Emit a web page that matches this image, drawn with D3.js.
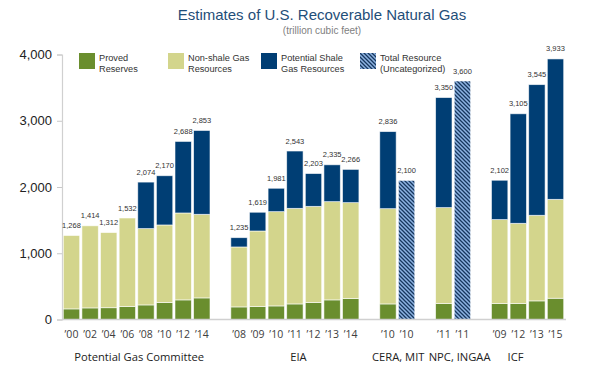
<!DOCTYPE html>
<html>
<head>
<meta charset="utf-8">
<script src="https://cdn.jsdelivr.net/npm/d3@7"></script>
<style>
  body { margin: 0; background: #fff; }
  svg { display: block; }
</style>
</head>
<body>
<svg id="chart" width="596" height="387"></svg>
<script>
// ---- Data ----
const groups = ["Potential Gas Committee", "EIA", "CERA, MIT", "NPC, INGAA", "ICF"];
const barGroup = [0,0,0,0,0,0,0,0, 1,1,1,1,1,1,1, 2,2, 3,3, 4,4,4,4];
const years = ["’00","’02","’04","’06","’08","’10","’12","’14",
               "’08","’09","’10","’11","’12","’13","’14",
               "’10","’10", "’11","’11", "’09","’12","’13","’15"];
const proved   = [160,175,178,196,220,256,296,326, 190,196,205,235,256,296,317, 235,0, 241,0, 241,241,281,321];
const nonshale = [1108,1239,1134,1336,1152,1171,1312,1262, 905,1140,1423,1443,1452,1483,1447, 1438,0, 1448,0, 1267,1211,1292,1493];
const shale    = [0,0,0,0,702,743,1080,1265, 140,283,353,865,495,556,502, 1163,0, 1661,0, 594,1653,1972,2119];
const uncategorized = [0,0,0,0,0,0,0,0, 0,0,0,0,0,0,0, 0,2100, 0,3600, 0,0,0,0];
const totals   = [1268,1414,1312,1532,2074,2170,2688,2853, 1235,1619,1981,2543,2203,2335,2266, 2836,2100, 3350,3600, 2102,3105,3545,3933];
const yTicks = [0, 1000, 2000, 3000, 4000];
const seriesNames = ["Proved\nReserves", "Non-shale Gas\nResources", "Potential Shale\nGas Resources", "Total Resource\n(Uncategorized)"];

// ---- Style ----
const colors = { proved: "#6a8e2e", nonshale: "#d3d58c", shale: "#003e74", hatchBg: "#8db3e2", hatch: "#17375e" };
const groupLabelDx = [2.5, 3.5, 1, 6.5, -12];

const svg = d3.select("#chart");

// pattern
const defs = svg.append("defs");
const pat = defs.append("pattern").attr("id", "hatch")
  .attr("patternUnits", "userSpaceOnUse").attr("width", 4).attr("height", 4);
pat.append("rect").attr("width", 4).attr("height", 4).attr("fill", colors.hatchBg);
pat.append("path").attr("d", "M-1,-1 L5,5 M-1,3 L1,5 M3,-1 L5,1")
  .attr("stroke", colors.hatch).attr("stroke-width", 1.3);

// slots: one empty slot between groups
const slots = [];
barGroup.forEach((g, i) => { slots.push(i + g); });
const nSlots = slots[slots.length - 1] + 1;

const x = d3.scaleBand().domain(d3.range(nSlots)).range([62, 565])
  .paddingInner(0.12).paddingOuter(0.07);
const y = d3.scaleLinear().domain([0, 4000]).range([319.5, 54.5]);

// Title
svg.append("text").attr("x", 322).attr("y", 19.5).attr("text-anchor", "middle")
  .attr("font-family", "Liberation Sans, Arial, sans-serif").attr("font-size", 15)
  .attr("fill", "#1f4e79").text("Estimates of U.S. Recoverable Natural Gas");
svg.append("text").attr("x", 322).attr("y", 34).attr("text-anchor", "middle")
  .attr("font-family", "Liberation Sans, Arial, sans-serif").attr("font-size", 10)
  .attr("fill", "#7f7f7f").text("(trillion cubic feet)");

// Y axis
const yAxis = svg.append("g").attr("transform", "translate(62,0)")
  .call(d3.axisLeft(y).tickValues(yTicks).tickFormat(d3.format(",")).tickSize(5).tickPadding(5));
yAxis.select(".domain").attr("stroke", "#d0d0d0").attr("stroke-width", 1.2);
yAxis.selectAll(".tick line").attr("stroke", "#c8c8c8");
yAxis.selectAll(".tick text").attr("font-family", "Liberation Sans, Arial, sans-serif")
  .attr("font-size", 13).attr("fill", "#222");

// Bars
const bars = svg.append("g");
years.forEach((yr, i) => {
  const bx = x(slots[i]), bw = x.bandwidth();
  let base = 0;
  const segs = [[proved[i], colors.proved], [nonshale[i], colors.nonshale], [shale[i], colors.shale], [uncategorized[i], "url(#hatch)"]];
  segs.forEach(([v, c]) => {
    if (v > 0) {
      bars.append("rect").attr("x", bx).attr("width", bw)
        .attr("y", y(base + v)).attr("height", y(base) - y(base + v))
        .attr("fill", c).attr("stroke", "rgba(255,255,255,0.7)").attr("stroke-width", 0.8);
      base += v;
    }
  });
  bars.append("text").attr("x", bx + bw / 2).attr("y", y(totals[i]) - 7.5)
    .attr("text-anchor", "middle").attr("font-family", "Liberation Sans, Arial, sans-serif")
    .attr("font-size", 7.5).attr("fill", "#333").text(d3.format(",")(totals[i]));
});

// X baseline
svg.append("line").attr("x1", 62).attr("x2", 566).attr("y1", y(0)).attr("y2", y(0))
  .attr("stroke", "#d0d0d0").attr("stroke-width", 1.5);

// X tick labels
years.forEach((yr, i) => {
  svg.append("text").attr("x", x(slots[i]) + x.bandwidth() / 2).attr("y", 338)
    .attr("text-anchor", "middle").attr("font-family", "Open Sans, sans-serif")
    .attr("font-size", 10.5).attr("fill", "#404040").text(yr);
});

// Group labels
groups.forEach((g, gi) => {
  const idx = barGroup.map((v, i) => v === gi ? i : -1).filter(v => v >= 0);
  const x0 = x(slots[idx[0]]), x1 = x(slots[idx[idx.length - 1]]) + x.bandwidth();
  svg.append("text").attr("x", (x0 + x1) / 2 + groupLabelDx[gi]).attr("y", 360.5)
    .attr("text-anchor", "middle").attr("font-family", "Open Sans, sans-serif")
    .attr("font-size", 11.2).attr("fill", "#222").text(g);
});

// Legend
const legendX = [79, 168, 261, 360];
const legendFills = [colors.proved, colors.nonshale, colors.shale, "url(#hatch)"];
seriesNames.forEach((name, i) => {
  const lg = svg.append("g").attr("transform", `translate(${legendX[i]},53)`);
  lg.append("rect").attr("width", 16).attr("height", 16).attr("fill", legendFills[i]);
  name.split("\n").forEach((line, li) => {
    lg.append("text").attr("x", 20).attr("y", 8 + li * 10.5)
      .attr("font-family", "Liberation Sans, Arial, sans-serif").attr("font-size", 9.2)
      .attr("fill", "#333").text(line);
  });
});
</script>
</body>
</html>
